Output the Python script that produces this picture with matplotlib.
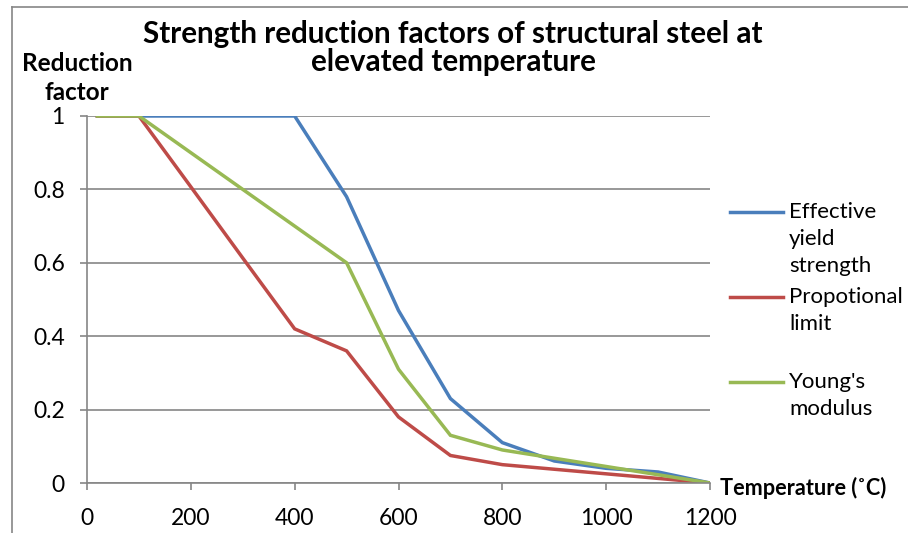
import matplotlib
matplotlib.use("Agg")
import matplotlib.pyplot as plt
from matplotlib.lines import Line2D

# Temperatures and reduction factors
temps = [20, 100, 200, 300, 400, 500, 600, 700, 800, 900, 1000, 1100, 1200]
yield_strength = [1, 1, 1, 1, 1, 0.78, 0.47, 0.23, 0.11, 0.06, 0.04, 0.03, 0]
prop_limit = [1, 1, 0.807, 0.613, 0.42, 0.36, 0.18, 0.075, 0.05, 0.0375, 0.025, 0.0125, 0]
youngs_mod = [1, 1, 0.9, 0.8, 0.7, 0.6, 0.31, 0.13, 0.09, 0.0675, 0.045, 0.0225, 0]

series_labels = ["Effective\nyield\nstrength", "Propotional\nlimit", "Young's\nmodulus"]
series_colors = ["#4a7ebb", "#be4b48", "#98b954"]

plt.rcParams['font.family'] = ['Lato', 'DejaVu Sans']

fig = plt.figure(figsize=(9.08, 5.33), dpi=100)
W, H = 908, 533

# outer chart border (only left and top visible)
fig.add_artist(Line2D([12 / W, 12 / W], [0, 1 - 7 / H], color="#868686", lw=1.2))
fig.add_artist(Line2D([12 / W, 1], [1 - 7 / H, 1 - 7 / H], color="#868686", lw=1.2))

ax = fig.add_axes([87 / W, 50 / H, (710 - 87) / W, (483 - 116) / H])

for vals, col in zip([yield_strength, prop_limit, youngs_mod], series_colors):
    ax.plot(temps, vals, color=col, lw=2.5, solid_joinstyle="miter")

ax.set_xlim(0, 1200)
ax.set_ylim(0, 1)
ax.set_xticks(range(0, 1201, 200))
ax.set_yticks([0, 0.2, 0.4, 0.6, 0.8, 1])
ax.set_yticklabels(["0", "0.2", "0.4", "0.6", "0.8", "1"])
ax.grid(axis="y", color="#868686", lw=1.2)
ax.set_axisbelow(True)
for s in ["top", "right"]:
    ax.spines[s].set_visible(False)
for s in ["left", "bottom"]:
    ax.spines[s].set_color("#868686")
    ax.spines[s].set_linewidth(1.2)
ax.tick_params(axis="both", colors="#868686", length=5, width=1.2, labelsize=16.5,
               labelcolor="black")
ax.tick_params(axis="y", pad=11)
ax.tick_params(axis="x", pad=13)

fig.text(453 / W, 1 - 48 / H, "Strength reduction factors of structural steel at\nelevated temperature",
         ha="center", va="center", fontsize=21.3, fontweight="bold", linespacing=1.0)
fig.text(77 / W, 1 - 78 / H, "Reduction\nfactor", ha="center", va="center",
         fontsize=17.5, fontweight="bold", linespacing=1.3)
fig.text(720 / W, 1 - 488 / H, "Temperature (\u02daC)", ha="left", va="center",
         fontsize=15.6, fontweight="bold")

# legend drawn by hand to match the layout
legend_y = [212, 297, 382]
for lab, col, ly in zip(series_labels, series_colors, legend_y):
    fig.add_artist(Line2D([730 / W, 783 / W], [1 - ly / H, 1 - ly / H], color=col, lw=2.5))
    fig.text(789 / W, 1 - (ly - 10) / H, lab, ha="left", va="top", fontsize=16, linespacing=1.45)

fig.savefig("out.png", dpi=100)
